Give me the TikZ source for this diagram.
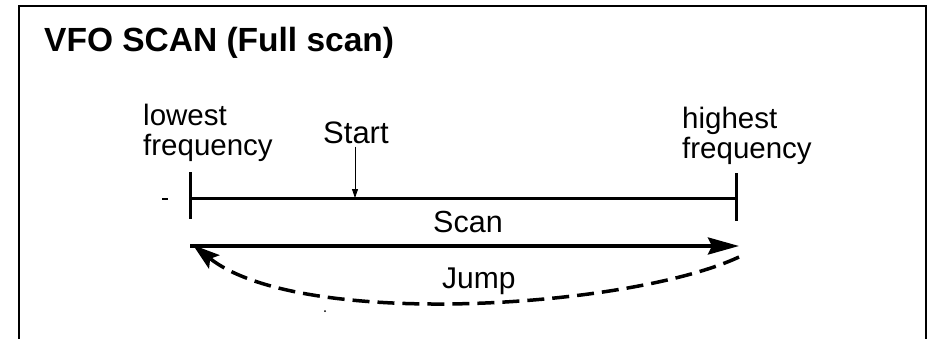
\documentclass[tikz,border=0pt]{standalone}
\usepackage{fontspec}
\setmainfont{Liberation Sans}
\usetikzlibrary{arrows.meta}
\begin{document}
\begin{tikzpicture}[x=1pt,y=-1pt,
  lbl/.style={inner sep=0pt, font=\fontsize{29.5}{30}\selectfont, align=left, anchor=base west},
  ttl/.style={inner sep=0pt, font=\fontsize{33.5}{36}\selectfont\bfseries, anchor=base west},
  frame/.style={line width=2pt},
  scaleline/.style={line width=3pt},
  tickline/.style={line width=3pt},
  scanarrow/.style={line width=3.5pt, -{Stealth[length=31pt,width=17pt,inset=4pt]}},
  jumparrow/.style={line width=3.5pt, dash pattern=on 17pt off 8pt, -{Stealth[length=27pt,width=17pt,inset=5pt]}},
  startarrow/.style={line width=0.8pt, -{Triangle[length=9pt,width=6pt]}}
]
\useasboundingbox (0,0) rectangle (933,338);
% frame (open at the bottom)
\coordinate (fbl) at (19,345);
\coordinate (ftl) at (19,6);
\coordinate (ftr) at (926,6);
\coordinate (fbr) at (926,345);
\draw[frame] (fbl) -- (ftl) -- (ftr) -- (fbr);

% texts
\node[ttl] (title) at (44,51) {VFO SCAN (Full scan)};
\node[lbl] (low) at (143,155) {lowest\\frequency};
\node[lbl] (high) at (682,158) {highest\\frequency};
\node[lbl, font=\fontsize{31}{30}\selectfont] (start) at (323,143) {Start};
\node[lbl, font=\fontsize{30.5}{30}\selectfont] (scan) at (433,232) {Scan};
\node[lbl, font=\fontsize{30}{30}\selectfont] (jump) at (442,288) {Jump};

% scale
\coordinate (lt) at (190,172);
\coordinate (lb) at (190,219);
\coordinate (rt) at (736,173);
\coordinate (rb) at (736,221);
\coordinate (lm) at (190,198);
\coordinate (rm) at (736,198);
\coordinate (sp) at (355,198);
\draw[tickline] (lt) -- (lb);
\draw[tickline] (rt) -- (rb);
\draw[scaleline] (lm) -- (rm);
\draw[startarrow] ([yshift=-3pt]start.south -| sp) -- (sp);

% scan arrow
\coordinate (sa) at (190,246);
\coordinate (se) at (739,246);
\draw[scanarrow] (sa) -- (se);

% jump arrow
\coordinate (je) at (739,257);
\coordinate (js) at (193,245);
\draw[jumparrow] (je) .. controls (630,308) and (300,330) .. (js);

% small stray marks
\coordinate (d1) at (162,199);
\coordinate (d2) at (168,199);
\draw[line width=2pt] (d1) -- (d2);
\coordinate (dot) at (325,311);
\fill (dot) circle (1pt);
\end{tikzpicture}
\end{document}
